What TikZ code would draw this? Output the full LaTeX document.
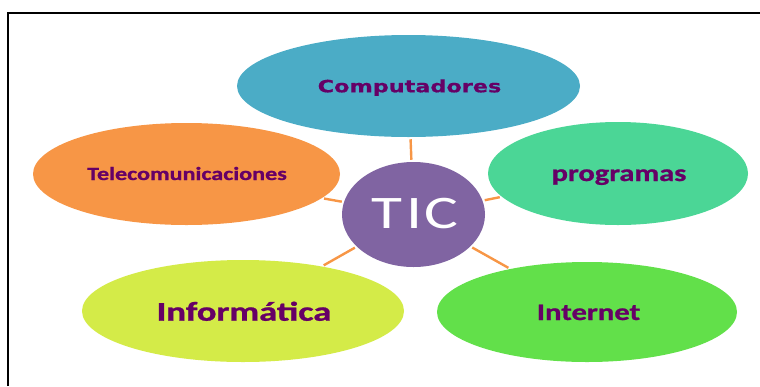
\documentclass[tikz,border=0pt]{standalone}
\usepackage{fontspec}
\usepackage{graphicx}
\usetikzlibrary{shapes.geometric}
\newfontfamily\vfont{DejaVu Sans}[BoldFeatures={FakeBold=0.6}]
\newfontfamily\cfont{Carlito}[BoldFeatures={FakeBold=0.9}]
\definecolor{ccomp}{RGB}{75,172,198}
\definecolor{ctele}{RGB}{247,150,70}
\definecolor{cprog}{RGB}{75,214,150}
\definecolor{ctic}{RGB}{128,100,162}
\definecolor{cinfo}{RGB}{212,235,72}
\definecolor{cinet}{RGB}{98,224,74}
\definecolor{ctext}{RGB}{102,0,102}
\definecolor{cline}{RGB}{247,150,70}
\tikzset{
  bub/.style={ellipse, inner sep=0pt, draw=none},
  lab/.style={inner sep=0pt, anchor=base, text=ctext},
  link/.style={draw=cline, line width=1.8pt, shorten <=1.5pt, shorten >=1.5pt},
  frame/.style={draw=black, line width=1.5pt}
}
\begin{document}
\begin{tikzpicture}[x=0.75pt,y=-0.75pt]
\useasboundingbox (0,0) rectangle (760,386);
\draw[frame] (7.5,386) -- (7.5,12.5) -- (760,12.5);
% bubbles
\node[bub, fill=ccomp, minimum width=257.25pt, minimum height=76.5pt] (comp) at (408.5,86) {};
\node[bub, fill=ctele, minimum width=230.25pt, minimum height=76.5pt] (tele) at (186.5,174) {};
\node[bub, fill=cprog, minimum width=195pt, minimum height=77.25pt] (prog) at (618,173.5) {};
\node[bub, fill=ctic, minimum width=107.25pt, minimum height=78.75pt] (tic) at (413.5,214.5) {};
\node[bub, fill=cinfo, minimum width=241.5pt, minimum height=76.5pt] (info) at (243,311) {};
\node[bub, fill=cinet, minimum width=225pt, minimum height=75pt] (inet) at (587,312) {};
% labels
\node[lab, font=\vfont\bfseries\fontsize{12.7pt}{12.7pt}\selectfont] (compT) at (409.5,92.3) {\scalebox{1.32}[1]{Computadores}};
\node[lab, font=\cfont\bfseries\fontsize{14pt}{14pt}\selectfont] (teleT) at (187,180) {\scalebox{1.29}[1]{Telecomunicaciones}};
\node[lab, font=\cfont\bfseries\fontsize{17.7pt}{17.7pt}\selectfont] (progT) at (619,181) {\scalebox{1.29}[1]{programas}};
\node[lab, text=white, font=\cfont\fontsize{35pt}{35pt}\selectfont] (ticT) at (415,228) {\scalebox{1.36}[1]{T\kern2.2pt I\kern1.2pt C}};
\node[lab, font=\cfont\bfseries\fontsize{20.3pt}{20.3pt}\selectfont] (infoT) at (244,320.7) {\scalebox{1.35}[1]{Informática}};
\node[lab, font=\cfont\bfseries\fontsize{17.7pt}{17.7pt}\selectfont] (inetT) at (588.5,320) {\scalebox{1.3}[1]{Internet}};
% connectors
\draw[link] (tic) -- (comp);
\draw[link] (tic) -- (tele);
\draw[link] (tic) -- (prog);
\draw[link] (tic) -- (info);
\draw[link] (tic) -- (inet);
\end{tikzpicture}
\end{document}
